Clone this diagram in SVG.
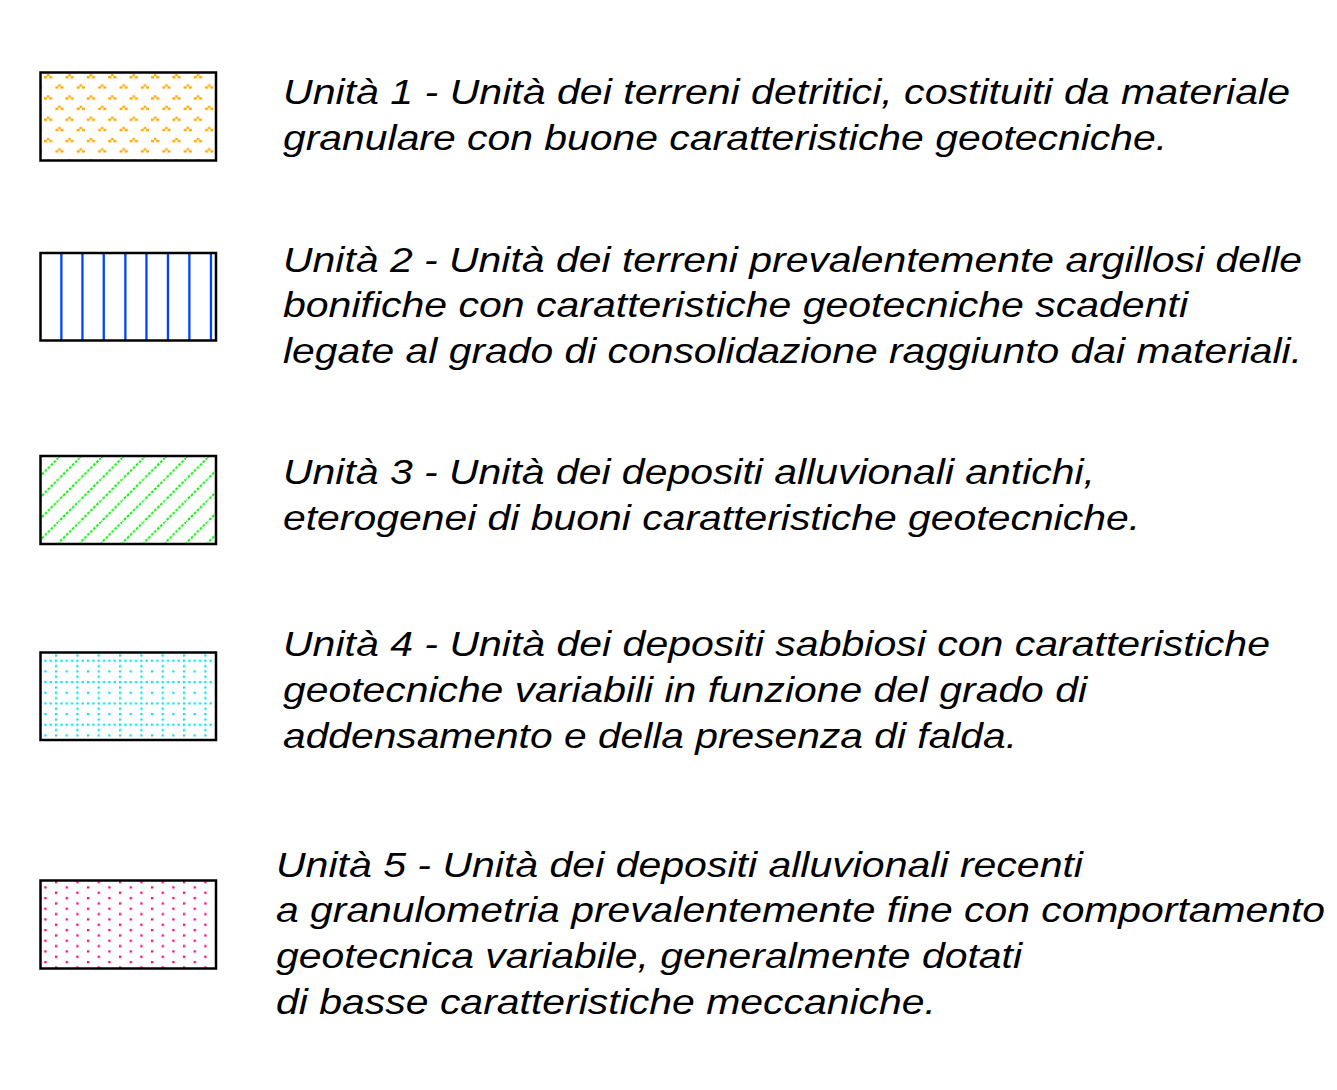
<svg xmlns="http://www.w3.org/2000/svg" width="1337" height="1090" viewBox="0 0 1337 1090">
<style>
.t{font-family:"Liberation Sans",Arial,sans-serif;font-style:italic;font-size:35px;fill:#000}
.box{stroke:#000;stroke-width:2.5}
.bl{fill:#0044FF}
</style>
<defs>
<pattern id="p1" patternUnits="userSpaceOnUse" x="44" y="74" width="21.4" height="21.3">
<g fill="#FFA800">
<rect x="2.8" y="0" width="2.6" height="2.2"/><rect x="0" y="2" width="3" height="2.4"/><rect x="5.2" y="2" width="3" height="2.4"/>
<rect x="14.1" y="10.3" width="2.6" height="2.2"/><rect x="11.3" y="12.3" width="3" height="2.4"/><rect x="16.5" y="12.3" width="3" height="2.4"/>
</g>
</pattern>
<pattern id="p3" patternUnits="userSpaceOnUse" x="37" y="458" width="21.3" height="21.3">
<path d="M-1,22.3 L22.3,-1" stroke="#00F000" stroke-width="2" stroke-dasharray="2.6 1.6" fill="none"/>
</pattern>
<pattern id="p4" patternUnits="userSpaceOnUse" x="44.3" y="659.7" width="21.33" height="21.33">
<g fill="#00E5F5">
<rect x="0" y="0" width="2.2" height="2.2"/><rect x="5.33" y="0" width="2.2" height="2.2"/><rect x="10.67" y="0" width="2.2" height="2.2"/><rect x="16" y="0" width="2.2" height="2.2"/>
<rect x="10.67" y="5.33" width="2.2" height="2.2"/><rect x="10.67" y="10.67" width="2.2" height="2.2"/><rect x="10.67" y="16" width="2.2" height="2.2"/>
<rect x="0" y="10.67" width="2.2" height="2.2"/>
</g>
</pattern>
<pattern id="p5" patternUnits="userSpaceOnUse" x="44.3" y="886.3" width="21.33" height="10.67">
<g fill="#FF0A78">
<rect x="0" y="0" width="2.3" height="2.3"/><rect x="10.67" y="5.33" width="2.3" height="2.3"/>
</g>
</pattern>
</defs>
<rect width="1337" height="1090" fill="#fff"/>

<g id="unit1">
<rect class="box" x="40.5" y="72.5" width="175.5" height="88" fill="url(#p1)"/>
<text class="t" x="283" y="104" textLength="1007" lengthAdjust="spacingAndGlyphs">Unità 1 - Unità dei terreni detritici, costituiti da materiale</text>
<text class="t" x="283" y="150" textLength="884" lengthAdjust="spacingAndGlyphs">granulare con buone caratteristiche geotecniche.</text>
</g>

<g id="unit2">
<rect x="40.5" y="253" width="175.5" height="87.5" fill="#fff"/>
<rect class="bl" x="60.2" y="253" width="2.3" height="87.5"/>
<rect class="bl" x="81.3" y="253" width="2.3" height="87.5"/>
<rect class="bl" x="102.6" y="253" width="2.3" height="87.5"/>
<rect class="bl" x="124.2" y="253" width="2.3" height="87.5"/>
<rect class="bl" x="145.3" y="253" width="2.3" height="87.5"/>
<rect class="bl" x="166.8" y="253" width="2.3" height="87.5"/>
<rect class="bl" x="188.2" y="253" width="2.3" height="87.5"/>
<rect class="bl" x="209.8" y="253" width="2.3" height="87.5"/>
<rect class="box" x="40.5" y="253" width="175.5" height="87.5" fill="none"/>
<text class="t" x="283" y="272" textLength="1019" lengthAdjust="spacingAndGlyphs">Unità 2 - Unità dei terreni prevalentemente argillosi delle</text>
<text class="t" x="283" y="317" textLength="905" lengthAdjust="spacingAndGlyphs">bonifiche con caratteristiche geotecniche scadenti</text>
<text class="t" x="283" y="363" textLength="1019" lengthAdjust="spacingAndGlyphs">legate al grado di consolidazione raggiunto dai materiali.</text>
</g>

<g id="unit3">
<rect class="box" x="40.5" y="456" width="175.5" height="88" fill="url(#p3)"/>
<text class="t" x="283" y="484" textLength="812" lengthAdjust="spacingAndGlyphs">Unità 3 - Unità dei depositi alluvionali antichi,</text>
<text class="t" x="283" y="530" textLength="857" lengthAdjust="spacingAndGlyphs">eterogenei di buoni caratteristiche geotecniche.</text>
</g>

<g id="unit4">
<rect class="box" x="40.5" y="652.5" width="175.5" height="87.5" fill="url(#p4)"/>
<text class="t" x="283" y="656" textLength="987" lengthAdjust="spacingAndGlyphs">Unità 4 - Unità dei depositi sabbiosi con caratteristiche</text>
<text class="t" x="283" y="702" textLength="804" lengthAdjust="spacingAndGlyphs">geotecniche variabili in funzione del grado di</text>
<text class="t" x="283" y="748" textLength="734" lengthAdjust="spacingAndGlyphs">addensamento e della presenza di falda.</text>
</g>

<g id="unit5">
<rect class="box" x="40.5" y="880.5" width="175.5" height="88" fill="url(#p5)"/>
<text class="t" x="276" y="877" textLength="807" lengthAdjust="spacingAndGlyphs">Unità 5 - Unità dei depositi alluvionali recenti</text>
<text class="t" x="276" y="922" textLength="1049" lengthAdjust="spacingAndGlyphs">a granulometria prevalentemente fine con comportamento</text>
<text class="t" x="276" y="968" textLength="746" lengthAdjust="spacingAndGlyphs">geotecnica variabile, generalmente dotati</text>
<text class="t" x="276" y="1014" textLength="660" lengthAdjust="spacingAndGlyphs">di basse caratteristiche meccaniche.</text>
</g>
</svg>
